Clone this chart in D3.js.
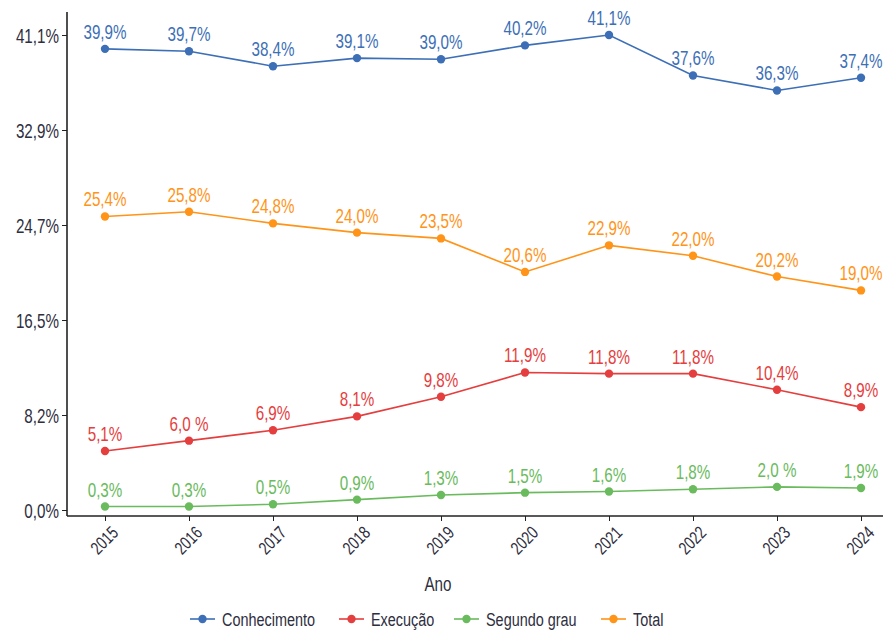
<!DOCTYPE html>
<html>
<head>
<meta charset="utf-8">
<script src="https://cdn.jsdelivr.net/npm/d3@7"></script>
<style>
  body { margin: 0; background: #fff; }
  text { font-family: "Liberation Sans", Arial, sans-serif; }
</style>
</head>
<body>
<svg width="887" height="631"></svg>
<script>
var years = [2015, 2016, 2017, 2018, 2019, 2020, 2021, 2022, 2023, 2024];
var conhecimento = [39.9, 39.7, 38.4, 39.1, 39.0, 40.2, 41.1, 37.6, 36.3, 37.4];
var execucao = [5.1, 6.0, 6.9, 8.1, 9.8, 11.9, 11.8, 11.8, 10.4, 8.9];
var segundoGrau = [0.3, 0.3, 0.5, 0.9, 1.3, 1.5, 1.6, 1.8, 2.0, 1.9];
var total = [25.4, 25.8, 24.8, 24.0, 23.5, 20.6, 22.9, 22.0, 20.2, 19.0];
var execLabels = ["5,1%", "6,0 %", "6,9%", "8,1%", "9,8%", "11,9%", "11,8%", "11,8%", "10,4%", "8,9%"];
var segLabels = ["0,3%", "0,3%", "0,5%", "0,9%", "1,3%", "1,5%", "1,6%", "1,8%", "2,0 %", "1,9%"];
var yTicks = [0, 8.22, 16.44, 24.66, 32.88, 41.1];
var yTickLabels = ["0,0%", "8,2%", "16,5%", "24,7%", "32,9%", "41,1%"];

var fmt = function (v) { return v.toFixed(1).replace(".", ",") + "%"; };

var series = [
    { name: "Conhecimento", values: conhecimento, color: "#3d6fb6", labels: conhecimento.map(fmt) },
    { name: "Execução", values: execucao, color: "#e53e3e", labels: execLabels },
    { name: "Segundo grau", values: segundoGrau, color: "#6abb5d", labels: segLabels },
    { name: "Total", values: total, color: "#ff9418", labels: total.map(fmt) }
];

var K = 0.76; // horizontal squeeze, the original uses a condensed face

// move x/y into a transform and squeeze the glyphs
function condense(sel) {
    sel.each(function () {
        var t = d3.select(this);
        var tx = +t.attr("x") || 0, ty = +t.attr("y") || 0;
        t.attr("x", 0).attr("y", 0)
            .attr("transform", "translate(" + tx + "," + ty + ") scale(" + K + ",1)");
    });
}

var svg = d3.select("svg");

var x = d3.scalePoint().domain(years).range([105, 861]);
var y = d3.scaleLinear().domain([0, 41.1]).range([510, 35]);

// y axis
var yAxis = svg.append("g")
    .attr("transform", "translate(67,0)")
    .call(d3.axisLeft(y).tickValues(yTicks).tickFormat(function (d, i) { return yTickLabels[i]; }).tickSize(5).tickSizeOuter(0));
yAxis.select(".domain").remove();
yAxis.append("line").attr("x1", 0).attr("x2", 0).attr("y1", 12).attr("y2", 516)
    .attr("stroke", "#222").attr("stroke-width", 1.6);
yAxis.selectAll(".tick line").attr("stroke", "#222");
yAxis.selectAll(".tick text").attr("font-size", 20).attr("fill", "#2e2e3e").attr("x", -8).attr("dy", "0.35em");
condense(yAxis.selectAll(".tick text"));

// x axis
var xAxis = svg.append("g")
    .attr("transform", "translate(0,516)")
    .call(d3.axisBottom(x).tickSize(5).tickSizeOuter(0));
xAxis.select(".domain").remove();
xAxis.append("line").attr("x1", 67).attr("x2", 883).attr("y1", 0).attr("y2", 0)
    .attr("stroke", "#222").attr("stroke-width", 1.6);
xAxis.selectAll(".tick line").attr("stroke", "#222");
xAxis.selectAll(".tick text")
    .attr("font-size", 18)
    .attr("fill", "#2e2e3e")
    .attr("text-anchor", "end")
    .attr("dy", "0.7em")
    .attr("transform", "translate(5,9) rotate(-45) scale(" + K + ",1)")
    .attr("y", 0).attr("x", 0);

var ano = svg.append("text").attr("x", 438).attr("y", 591).attr("text-anchor", "middle")
    .attr("font-size", 20).attr("fill", "#2e2e3e").text("Ano");
condense(ano);

var line = d3.line().x(function (d, i) { return x(years[i]); }).y(function (d) { return y(d); });

series.forEach(function (s) {
    var g = svg.append("g");
    g.append("path").datum(s.values).attr("d", line)
        .attr("fill", "none").attr("stroke", s.color).attr("stroke-width", 1.6);
    g.selectAll("circle").data(s.values).enter().append("circle")
        .attr("cx", function (d, i) { return x(years[i]); })
        .attr("cy", function (d) { return y(d); })
        .attr("r", 4.2).attr("fill", s.color);
    var labels = g.selectAll("text").data(s.values).enter().append("text")
        .attr("x", function (d, i) { return x(years[i]); })
        .attr("y", function (d) { return y(d) - 10; })
        .attr("text-anchor", "middle")
        .attr("font-size", 20)
        .attr("fill", s.color)
        .text(function (d, i) { return s.labels[i]; });
    condense(labels);
});

// legend
var legendX = [190, 339, 454, 601];
var legend = svg.append("g").attr("transform", "translate(0,619)");
series.forEach(function (s, i) {
    var lg = legend.append("g").attr("transform", "translate(" + legendX[i] + ",0)");
    lg.append("line").attr("x1", 0).attr("x2", 25).attr("y1", 0).attr("y2", 0)
        .attr("stroke", s.color).attr("stroke-width", 1.6);
    lg.append("circle").attr("cx", 12.5).attr("cy", 0).attr("r", 4.2).attr("fill", s.color);
    var t = lg.append("text").attr("x", 32).attr("y", 0).attr("dy", "0.35em")
        .attr("font-size", 19).attr("fill", "#2e2e3e").text(s.name);
    condense(t);
});
</script>
</body>
</html>
